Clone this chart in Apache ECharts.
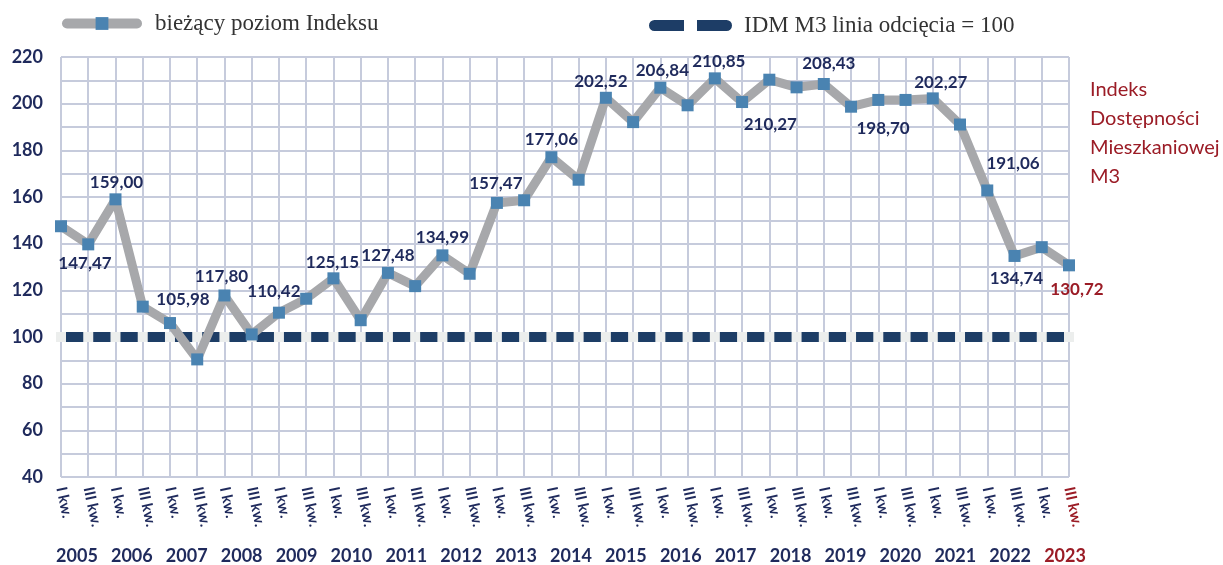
<!DOCTYPE html>
<html>
<head>
<meta charset="utf-8">
<script src="https://cdn.jsdelivr.net/npm/echarts@6/dist/echarts.min.js"></script>
<style>
  html, body { margin: 0; padding: 0; background: #fff; }
  #chart { width: 1223px; height: 565px; }
</style>
</head>
<body>
<div id="chart"></div>
<script>
// kwartały (I i III) od 2005 do 2023
const quarters = [
  'I kw.', 'III kw.', 'I kw.', 'III kw.', 'I kw.', 'III kw.', 'I kw.', 'III kw.',
  'I kw.', 'III kw.', 'I kw.', 'III kw.', 'I kw.', 'III kw.', 'I kw.', 'III kw.',
  'I kw.', 'III kw.', 'I kw.', 'III kw.', 'I kw.', 'III kw.', 'I kw.', 'III kw.',
  'I kw.', 'III kw.', 'I kw.', 'III kw.', 'I kw.', 'III kw.', 'I kw.', 'III kw.',
  'I kw.', 'III kw.', 'I kw.', 'III kw.', 'I kw.', 'III kw.'
];
const years = [
  '2005', '2006', '2007', '2008', '2009', '2010', '2011', '2012', '2013', '2014',
  '2015', '2016', '2017', '2018', '2019', '2020', '2021', '2022', '2023'
];
// bieżący poziom Indeksu
const indexValues = [
  147.47, 139.7, 159.00, 113.0, 105.98, 90.4, 117.80, 101.1,
  110.42, 116.4, 125.15, 107.2, 127.48, 121.8, 134.99, 127.1,
  157.47, 158.6, 177.06, 167.4, 202.52, 192.1, 206.84, 199.3,
  210.85, 200.7, 210.27, 207.0, 208.43, 198.70, 201.6, 201.6,
  202.27, 191.06, 162.8, 134.74, 138.5, 130.72
];
// punkty z podpisem wartości
const labelledPoints = [0, 2, 4, 6, 8, 10, 12, 14, 16, 18, 20, 22, 24, 26, 28, 29, 32, 33, 35, 37];
const cutoffLevel = 100;
const yTicks = [40, 60, 80, 100, 120, 140, 160, 180, 200, 220];

const NAVY = '#1f2a5c';
const RED = '#9b1c26';
const GRID_LINE = '#c6cbdc';

// przesunięcia podpisów względem punktów
const labelOffsets = {
  0: [24, 37], 2: [1, -17], 4: [13, -24], 6: [-3, -19], 8: [-5, -21],
  10: [-1, -16], 12: [0, -17], 14: [0, -18], 16: [-1, -19], 18: [0, -18],
  20: [-5, -16], 22: [2, -17], 24: [4, -17], 26: [1, 45], 28: [5, -20],
  29: [32, 22], 32: [8, -16], 33: [53, 39], 35: [2, 23], 37: [8, 24]
};

const W = 1223, gridLeft = 61, gridRight = 154;
const step = (W - gridLeft - gridRight) / (quarters.length - 1);
const gap = 10;

const fmt = (v) => v.toFixed(2).replace('.', ',');

const mainData = indexValues.map((v, i) => {
  if (labelledPoints.indexOf(i) < 0) return v;
  return {
    value: v,
    label: {
      show: true,
      position: 'inside',
      offset: labelOffsets[i],
      formatter: fmt(v),
      color: i === quarters.length - 1 ? RED : NAVY,
      fontFamily: 'Lato',
      fontWeight: 'bold',
      fontSize: 17
    }
  };
});

const chart = echarts.init(document.getElementById('chart'));
chart.setOption({
  animation: false,
  legend: [
    {
      data: ['bieżący poziom Indeksu'],
      left: 57, top: 7,
      itemWidth: 70, itemHeight: 16,
      lineStyle: { width: 10, cap: 'round' },
      textStyle: { fontFamily: 'Liberation Serif', fontSize: 23, color: '#333', padding: [0, 0, 0, 13] }
    },
    {
      data: [{
        name: 'IDM M3 linia odcięcia = 100',
        icon: 'path://M5.5,0 H35 V11 H5.5 A5.5,5.5 0 0 1 5.5,0 Z M48,0 H77.5 A5.5,5.5 0 0 1 77.5,11 H48 Z'
      }],
      left: 644, top: 9,
      itemWidth: 83, itemHeight: 11,
      textStyle: { fontFamily: 'Liberation Serif', fontSize: 23, color: '#333', padding: [0, 0, 0, 7] }
    }
  ],
  title: {
    text: 'Indeks\nDostępności\nMieszkaniowej\nM3',
    left: 1085, top: 70,
    textStyle: { fontFamily: 'Lato', fontSize: 20, fontWeight: 'normal', color: RED, lineHeight: 29 }
  },
  grid: [
    { left: gridLeft, right: gridRight, top: 57, bottom: 88 },
    { left: 49.5, right: 130.5, top: 57, bottom: 88 }
  ],
  xAxis: [
    {
      type: 'category',
      data: quarters,
      boundaryGap: false,
      axisLine: { show: false },
      axisTick: { show: false },
      splitLine: { show: true, interval: 0, lineStyle: { color: GRID_LINE, width: 2 } },
      axisLabel: {
        interval: 0,
        rotate: -78,
        margin: 10,
        fontFamily: 'Lato',
        fontWeight: 'bold',
        fontSize: 15,
        color: (v, i) => (i === quarters.length - 1 ? RED : NAVY)
      }
    },
    {
      type: 'category',
      gridIndex: 1,
      data: years,
      boundaryGap: true,
      axisLine: { show: false },
      axisTick: { show: false },
      splitLine: { show: false },
      axisLabel: {
        interval: 0,
        margin: 70,
        fontFamily: 'Lato',
        fontWeight: 'bold',
        fontSize: 18,
        color: (v, i) => (i === years.length - 1 ? RED : NAVY)
      }
    }
  ],
  yAxis: [
    {
      type: 'value',
      min: 40, max: 220, interval: 10,
      axisLine: { show: false },
      axisTick: { show: false },
      splitLine: { lineStyle: { color: GRID_LINE, width: 2 } },
      axisLabel: {
        margin: 18,
        fontFamily: 'Lato',
        fontWeight: 'bold',
        fontSize: 18,
        color: NAVY,
        formatter: (v) => (yTicks.indexOf(v) >= 0 ? v : '')
      }
    },
    { type: 'value', gridIndex: 1, show: false }
  ],
  series: [
    {
      type: 'line',
      data: quarters.map(() => cutoffLevel),
      symbol: 'none',
      silent: true,
      z: 2,
      lineStyle: { color: '#eceeed', width: 10, cap: 'square' }
    },
    {
      name: 'IDM M3 linia odcięcia = 100',
      type: 'line',
      data: quarters.map(() => cutoffLevel),
      symbol: 'none',
      itemStyle: { color: '#1d3d66' },
      z: 3,
      lineStyle: {
        color: '#1d3d66', width: 10,
        type: [step - gap, gap],
        dashOffset: step - gap / 2
      }
    },
    {
      name: 'bieżący poziom Indeksu',
      type: 'line',
      data: mainData,
      symbol: 'rect',
      symbolSize: 12,
      z: 4,
      itemStyle: { color: '#4a83b1' },
      lineStyle: { color: '#a7a8ab', width: 9 }
    }
  ]
});
</script>
</body>
</html>
